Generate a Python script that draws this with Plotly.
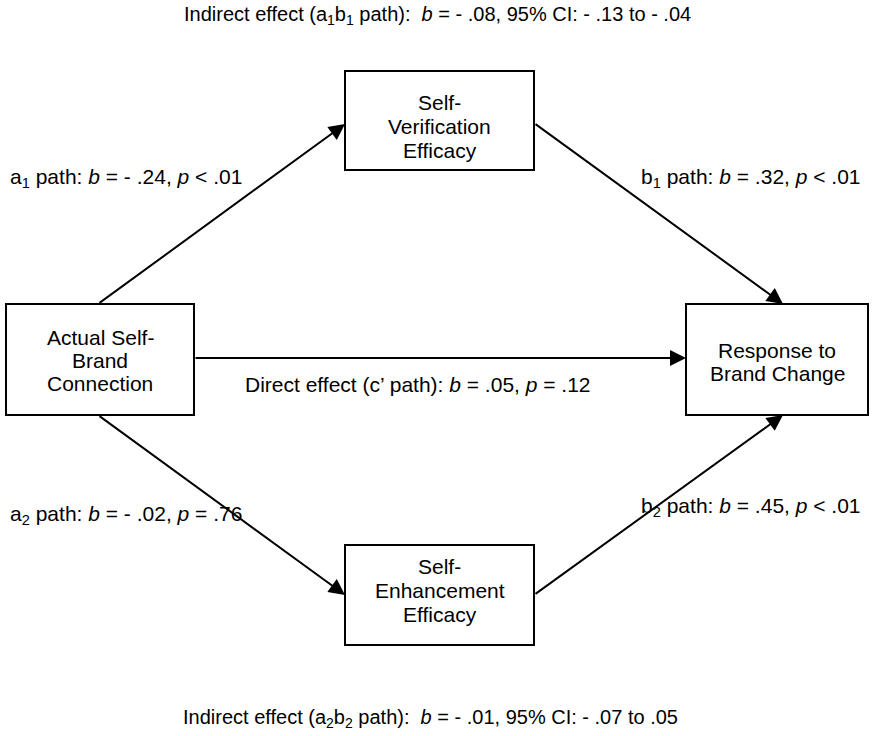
import plotly.graph_objects as go

# Node labels (one entry per text line)
node_lines = [["Actual Self-", "Brand", "Connection"],
              ["Self-", "Verification", "Efficacy"],
              ["Self-", "Enhancement", "Efficacy"],
              ["Response to", "Brand Change"]]
# Path labels
path_labels = [
    "a<sub>1</sub> path: <i>b</i> = - .24, <i>p</i> < .01",
    "b<sub>1</sub> path: <i>b</i> = .32, <i>p</i> < .01",
    "Direct effect (c’ path): <i>b</i> = .05, <i>p</i> = .12",
    "a<sub>2</sub> path: <i>b</i> = - .02, <i>p</i> = .76",
    "b<sub>2</sub> path: <i>b</i> = .45, <i>p</i> < .01",
]
indirect_labels = [
    "Indirect effect (a<sub>1</sub>b<sub>1</sub> path):  <i>b</i> = - .08, 95% CI: - .13 to - .04",
    "Indirect effect (a<sub>2</sub>b<sub>2</sub> path):  <i>b</i> = - .01, 95% CI: - .07 to .05",
]

# layout geometry (pixel coordinates)
boxes = [(6, 194, 304, 415), (345, 534, 71, 170), (345, 534, 545, 645), (686, 868, 304, 415)]
node_line_y = [[337, 360, 383], [102, 126, 150], [566, 590, 614], [350, 373]]
arrows = [((98, 304), (345, 124)), ((534, 123), (783, 304)), ((194, 358), (686, 358)),
          ((98, 415), (345, 595)), ((534, 595), (783, 415))]
path_pos = [(126, 178), (751, 178), (418, 384), (126, 515), (751, 507)]
indirect_pos = [(437, 15), (430, 718)]

FONT = dict(family="Liberation Sans, Arial, sans-serif", size=21, color="black")
LFONT = dict(family="Liberation Sans, Arial, sans-serif", size=20, color="black")

fig = go.Figure()
shapes = []
annotations = []
for (x0, x1, y0, y1), lines, ys in zip(boxes, node_lines, node_line_y):
    shapes.append(dict(type="rect", x0=x0, x1=x1, y0=y0, y1=y1, xref="x", yref="y",
                       line=dict(color="black", width=2), fillcolor="white"))
    for t, y in zip(lines, ys):
        annotations.append(dict(x=(x0 + x1) / 2, y=y, text=t, showarrow=False,
                                xref="x", yref="y", font=FONT, align="center"))
for (s, e) in arrows:
    annotations.append(dict(x=e[0], y=e[1], ax=s[0], ay=s[1], xref="x", yref="y",
                            axref="x", ayref="y", showarrow=True, arrowhead=2,
                            arrowsize=1.6, arrowwidth=2, arrowcolor="black", text=""))
for (x, y), t in zip(path_pos, path_labels):
    annotations.append(dict(x=x, y=y, text=t, showarrow=False, xref="x", yref="y", font=FONT))
for (x, y), t in zip(indirect_pos, indirect_labels):
    annotations.append(dict(x=x, y=y, text=t, showarrow=False, xref="x", yref="y", font=LFONT))

fig.update_layout(width=874, height=736, margin=dict(l=0, r=0, t=0, b=0),
                  plot_bgcolor="white", paper_bgcolor="white",
                  shapes=shapes, annotations=annotations, showlegend=False)
fig.update_xaxes(range=[0, 874], visible=False, fixedrange=True)
fig.update_yaxes(range=[736, 0], visible=False, fixedrange=True)
fig.write_html("out.html", config={"displayModeBar": False},
               post_script="document.body.style.margin='0px';")
